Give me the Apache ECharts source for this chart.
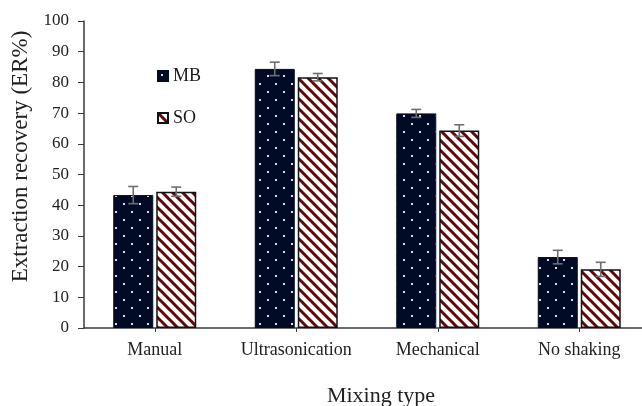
<!DOCTYPE html>
<html>
<head>
<meta charset="utf-8">
<script src="https://cdn.jsdelivr.net/npm/echarts@6/dist/echarts.min.js"></script>
<style>html,body{margin:0;padding:0;background:#fff;}#c{width:642px;height:406px;}</style>
</head>
<body>
<div id="c"></div>
<script>
const categories = ['Manual', 'Ultrasonication', 'Mechanical', 'No shaking'];
const mbValues = [43.3, 84.4, 69.9, 23.1];
const soValues = [44.4, 81.7, 64.3, 19.1];
const mbErrors = [2.8, 2.2, 1.3, 2.2];
const soErrors = [1.5, 1.2, 1.9, 2.3];
const yTicks = [0, 10, 20, 30, 40, 50, 60, 70, 80, 90, 100];

function dotPattern() {
  const c = document.createElement('canvas');
  c.width = 16; c.height = 16;
  const g = c.getContext('2d');
  g.fillStyle = '#020b26';
  g.fillRect(0, 0, 16, 16);
  g.fillStyle = '#dfe1ea';
  g.fillRect(3, 3, 2, 2);
  g.fillRect(11, 11, 2, 2);
  return c;
}
function stripePattern() {
  const s = 10;
  const c = document.createElement('canvas');
  c.width = s; c.height = s;
  const g = c.getContext('2d');
  g.fillStyle = '#ffffff';
  g.fillRect(0, 0, s, s);
  g.strokeStyle = '#600808';
  g.lineWidth = 3;
  g.beginPath();
  g.moveTo(-2, -2); g.lineTo(s + 2, s + 2);
  g.moveTo(-2 - s, -2); g.lineTo(2, s + 2);
  g.moveTo(s - 2, -2); g.lineTo(2 * s + 2, s + 2);
  g.stroke();
  return c;
}
const mbFill = { image: dotPattern(), repeat: 'repeat' };
const soFill = { image: stripePattern(), repeat: 'repeat' };

const BAR_W = 40, GAP = 3;
function errSeries(vals, errs, side) {
  return {
    type: 'custom',
    z: 10,
    silent: true,
    data: vals.map((v, i) => [i, v - errs[i], v + errs[i]]),
    renderItem: function (params, api) {
      const lo = api.coord([api.value(0), api.value(1)]);
      const hi = api.coord([api.value(0), api.value(2)]);
      const x = lo[0] + side * (BAR_W + GAP) / 2;
      const cw = 5;
      const st = { stroke: '#6e6e6e', lineWidth: 1.6 };
      return { type: 'group', children: [
        { type: 'line', shape: { x1: x, y1: lo[1], x2: x, y2: hi[1] }, style: st },
        { type: 'line', shape: { x1: x - cw, y1: lo[1], x2: x + cw, y2: lo[1] }, style: st },
        { type: 'line', shape: { x1: x - cw, y1: hi[1], x2: x + cw, y2: hi[1] }, style: st }
      ]};
    }
  };
}

const font = 'Liberation Serif, Times New Roman, serif';
const chart = echarts.init(document.getElementById('c'), null, { renderer: 'canvas' });
chart.setOption({
  animation: false,
  backgroundColor: '#fff',
  grid: { left: 84, top: 21, width: 566, height: 307, containLabel: false, outerBoundsMode: 'none' },
  legend: {
    orient: 'vertical', left: 157, top: 67, padding: 0, itemWidth: 10, itemHeight: 10, itemGap: 24,
    icon: 'rect',
    textStyle: { fontFamily: font, fontSize: 18, color: '#1a1a1a' },
    data: ['MB', 'SO']
  },
  xAxis: {
    type: 'category', data: categories,
    name: 'Mixing type', nameLocation: 'middle', nameGap: 57,
    nameTextStyle: { fontFamily: font, fontSize: 22, color: '#222', padding: [0, 0, 0, 28] },
    axisLine: { lineStyle: { color: '#3a3a3a', width: 1.5 } },
    axisTick: { show: true, alignWithLabel: true, interval: 0, length: 4, lineStyle: { color: '#3a3a3a' } },
    axisLabel: { fontFamily: font, fontSize: 18, color: '#222', margin: 13, interval: 0, hideOverlap: false }
  },
  yAxis: {
    type: 'value', min: 0, max: 100, interval: 10,
    name: 'Extraction recovery (ER%)', nameLocation: 'middle', nameGap: 48,
    nameTextStyle: { fontFamily: font, fontSize: 23, color: '#222', padding: [0, 0, 0, 36] },
    axisLine: { show: true, lineStyle: { color: '#3a3a3a', width: 1.5 } },
    axisTick: { show: true, length: 6, lineStyle: { color: '#3a3a3a' } },
    splitLine: { show: false },
    axisLabel: { fontFamily: font, fontSize: 17, color: '#222', margin: 15,
      formatter: v => yTicks.includes(v) ? String(v) : '' }
  },
  series: [
    { name: 'MB', type: 'bar', data: mbValues, barWidth: BAR_W, barGap: (GAP / BAR_W * 100) + '%',
      itemStyle: { color: mbFill, borderColor: '#020b26', borderWidth: 1 } },
    { name: 'SO', type: 'bar', data: soValues, barWidth: BAR_W,
      itemStyle: { color: soFill, borderColor: '#111', borderWidth: 1.5 } },
    errSeries(mbValues, mbErrors, -1),
    errSeries(soValues, soErrors, 1)
  ]
});
</script>
</body>
</html>
